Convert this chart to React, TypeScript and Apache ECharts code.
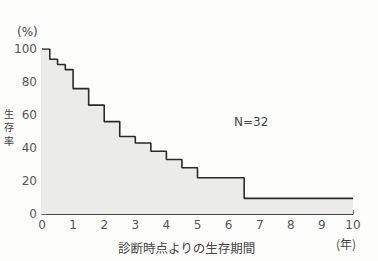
import React, { useEffect, useRef } from "react";
import * as echarts from "echarts";

const times = [0, 0.25, 0.5, 0.75, 1.0, 1.5, 2.0, 2.5, 3.0, 3.5, 4.0, 4.5, 5.0, 6.5, 10];
const survival = [100, 93.75, 90.6, 87.5, 76, 66, 56, 47, 43, 38, 33, 28, 22, 9.5, 9.5];
const xTicks = [0, 1, 2, 3, 4, 5, 6, 7, 8, 9, 10];
const yTicks = [0, 20, 40, 60, 80, 100];
const sampleSize = "N=32";
const yName = ["生", "存", "率"];

export default function App() {
  const ref = useRef<HTMLDivElement>(null);
  useEffect(() => {
    if (!ref.current) return;
    const chart = echarts.init(ref.current, null, { renderer: "svg" });
    const tickColor = "#555";
    const font = "'DejaVu Sans', sans-serif";
    const cjk = "'Noto Sans CJK JP', sans-serif";
    chart.setOption({
      animation: false,
      backgroundColor: "#fdfdfb",
      grid: { left: 42, right: 25, top: 49, bottom: 47 },
      xAxis: {
        type: "value",
        min: 0,
        max: 10,
        interval: 1,
        axisLine: { show: true, onZero: false, lineStyle: { color: "#444", width: 1.2 } },
        axisTick: { show: true, inside: true, length: 4, lineStyle: { color: "#666" } },
        axisLabel: {
          color: tickColor,
          fontSize: 12,
          fontFamily: font,
          margin: 5,
          formatter: (v: number) => (xTicks.includes(v) ? String(v) : ""),
        },
        splitLine: { show: false },
      },
      yAxis: {
        type: "value",
        min: 0,
        max: 100,
        interval: 20,
        axisLine: { show: true, lineStyle: { color: "#444", width: 1.2 } },
        axisTick: { show: true, inside: true, length: 4, lineStyle: { color: "#666" } },
        axisLabel: {
          color: tickColor,
          fontSize: 12,
          fontFamily: font,
          margin: 5,
          formatter: (v: number) => (yTicks.includes(v) ? String(v) : ""),
        },
        splitLine: { show: false },
      },
      series: [
        {
          type: "line",
          step: "end",
          symbol: "none",
          data: times.map((t, i) => [t, survival[i]]),
          lineStyle: { color: "#2a2a2a", width: 1.6 },
          areaStyle: { color: "#ebebea", opacity: 1 },
        },
      ],
      graphic: [
        {
          type: "text",
          left: 17,
          top: 26,
          style: { text: "(%)", fill: "#444", font: `12px ${font}` },
        },
        ...yName.map((ch, i) => ({
          type: "text",
          left: 4,
          top: 108 + i * 13.5,
          style: { text: ch, fill: "#444", font: `10px ${cjk}` },
        })),
        {
          type: "text",
          left: 234,
          top: 116,
          style: { text: sampleSize, fill: "#444", font: `12px ${font}` },
        },
        {
          type: "text",
          left: 118,
          top: 241,
          style: { text: "診断時点よりの生存期間", fill: "#444", font: `12.5px ${cjk}`, letterSpacing: 1.5 } as any,
        },
        {
          type: "text",
          left: 336,
          top: 237,
          style: { text: "(年)", fill: "#444", font: `12px ${cjk}` },
        },
      ],
    });
    return () => chart.dispose();
  }, []);
  return <div ref={ref} style={{ width: 378, height: 261, position: "absolute", left: 0, top: 0 }} />;
}
